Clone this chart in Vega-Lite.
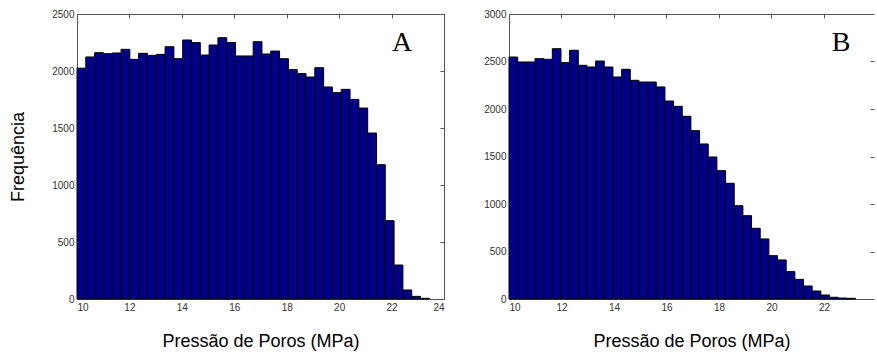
{
  "$schema": "https://vega.github.io/schema/vega-lite/v6.json",
  "padding": {"left": 9, "top": 8, "right": 0, "bottom": 0},
  "background": "white",
  "datasets": {
    "A": [
      {"x0": 10.000, "x1": 10.336, "n": 2025},
      {"x0": 10.336, "x1": 10.672, "n": 2123},
      {"x0": 10.672, "x1": 11.008, "n": 2161},
      {"x0": 11.008, "x1": 11.344, "n": 2152},
      {"x0": 11.344, "x1": 11.680, "n": 2158},
      {"x0": 11.680, "x1": 12.016, "n": 2190},
      {"x0": 12.016, "x1": 12.352, "n": 2102},
      {"x0": 12.352, "x1": 12.688, "n": 2155},
      {"x0": 12.688, "x1": 13.024, "n": 2137},
      {"x0": 13.024, "x1": 13.360, "n": 2146},
      {"x0": 13.360, "x1": 13.696, "n": 2213},
      {"x0": 13.696, "x1": 14.032, "n": 2108},
      {"x0": 14.032, "x1": 14.368, "n": 2272},
      {"x0": 14.368, "x1": 14.704, "n": 2249},
      {"x0": 14.704, "x1": 15.040, "n": 2140},
      {"x0": 15.040, "x1": 15.376, "n": 2228},
      {"x0": 15.376, "x1": 15.712, "n": 2292},
      {"x0": 15.712, "x1": 16.048, "n": 2249},
      {"x0": 16.048, "x1": 16.384, "n": 2132},
      {"x0": 16.384, "x1": 16.720, "n": 2132},
      {"x0": 16.720, "x1": 17.056, "n": 2257},
      {"x0": 17.056, "x1": 17.392, "n": 2149},
      {"x0": 17.392, "x1": 17.728, "n": 2175},
      {"x0": 17.728, "x1": 18.064, "n": 2108},
      {"x0": 18.064, "x1": 18.400, "n": 2012},
      {"x0": 18.400, "x1": 18.736, "n": 1977},
      {"x0": 18.736, "x1": 19.072, "n": 1947},
      {"x0": 19.072, "x1": 19.408, "n": 2029},
      {"x0": 19.408, "x1": 19.744, "n": 1860},
      {"x0": 19.744, "x1": 20.080, "n": 1810},
      {"x0": 20.080, "x1": 20.416, "n": 1839},
      {"x0": 20.416, "x1": 20.752, "n": 1751},
      {"x0": 20.752, "x1": 21.088, "n": 1675},
      {"x0": 21.088, "x1": 21.424, "n": 1456},
      {"x0": 21.424, "x1": 21.760, "n": 1178},
      {"x0": 21.760, "x1": 22.096, "n": 687},
      {"x0": 22.096, "x1": 22.432, "n": 298},
      {"x0": 22.432, "x1": 22.768, "n": 79},
      {"x0": 22.768, "x1": 23.104, "n": 23},
      {"x0": 23.104, "x1": 23.440, "n": 6}
    ],
    "B": [
      {"x0": 10.00, "x1": 10.33, "n": 2547},
      {"x0": 10.33, "x1": 10.66, "n": 2495},
      {"x0": 10.66, "x1": 10.99, "n": 2495},
      {"x0": 10.99, "x1": 11.32, "n": 2530},
      {"x0": 11.32, "x1": 11.65, "n": 2523},
      {"x0": 11.65, "x1": 11.98, "n": 2635},
      {"x0": 11.98, "x1": 12.31, "n": 2488},
      {"x0": 12.31, "x1": 12.64, "n": 2618},
      {"x0": 12.64, "x1": 12.97, "n": 2460},
      {"x0": 12.97, "x1": 13.30, "n": 2442},
      {"x0": 13.30, "x1": 13.63, "n": 2505},
      {"x0": 13.63, "x1": 13.96, "n": 2442},
      {"x0": 13.96, "x1": 14.29, "n": 2337},
      {"x0": 14.29, "x1": 14.62, "n": 2418},
      {"x0": 14.62, "x1": 14.95, "n": 2302},
      {"x0": 14.95, "x1": 15.28, "n": 2284},
      {"x0": 15.28, "x1": 15.61, "n": 2284},
      {"x0": 15.61, "x1": 15.94, "n": 2232},
      {"x0": 15.94, "x1": 16.27, "n": 2084},
      {"x0": 16.27, "x1": 16.60, "n": 2028},
      {"x0": 16.60, "x1": 16.93, "n": 1923},
      {"x0": 16.93, "x1": 17.26, "n": 1772},
      {"x0": 17.26, "x1": 17.59, "n": 1632},
      {"x0": 17.59, "x1": 17.92, "n": 1495},
      {"x0": 17.92, "x1": 18.25, "n": 1351},
      {"x0": 18.25, "x1": 18.58, "n": 1218},
      {"x0": 18.58, "x1": 18.91, "n": 982},
      {"x0": 18.91, "x1": 19.24, "n": 877},
      {"x0": 19.24, "x1": 19.57, "n": 744},
      {"x0": 19.57, "x1": 19.90, "n": 632},
      {"x0": 19.90, "x1": 20.23, "n": 456},
      {"x0": 20.23, "x1": 20.56, "n": 411},
      {"x0": 20.56, "x1": 20.89, "n": 288},
      {"x0": 20.89, "x1": 21.22, "n": 207},
      {"x0": 21.22, "x1": 21.55, "n": 137},
      {"x0": 21.55, "x1": 21.88, "n": 84},
      {"x0": 21.88, "x1": 22.21, "n": 42},
      {"x0": 22.21, "x1": 22.54, "n": 18},
      {"x0": 22.54, "x1": 22.87, "n": 10},
      {"x0": 22.87, "x1": 23.20, "n": 7}
    ],
    "LA": [{"label": "A", "x": 22.4, "y": 2245}],
    "LB": [{"label": "B", "x": 22.65, "y": 2695}]
  },
  "hconcat": [
    {
      "width": 367,
      "height": 285,
      "layer": [
        {
          "data": {"name": "A"},
          "mark": {"type": "bar", "color": "#00008B", "stroke": "#000000", "strokeWidth": 1},
          "encoding": {
            "x": {"field": "x0", "type": "quantitative", "scale": {"domain": [10, 24], "nice": false, "zero": false},
                  "axis": {"orient": "bottom", "values": [10, 12, 14, 16, 18, 20, 22, 24], "title": "Pressão de Poros (MPa)"}},
            "x2": {"field": "x1"},
            "y": {"field": "n", "type": "quantitative", "scale": {"domain": [0, 2500], "nice": false},
                  "axis": {"orient": "left", "values": [0, 500, 1000, 1500, 2000, 2500], "title": "Frequência", "titlePadding": 24}},
            "y2": {"datum": 0}
          }
        },
        {
          "data": {"name": "LA"},
          "mark": {"type": "text", "font": "Liberation Serif", "fontSize": 28, "color": "#000000", "align": "center", "baseline": "middle"},
          "encoding": {
            "x": {"field": "x", "type": "quantitative", "axis": {"orient": "top", "values": [10, 12, 14, 16, 18, 20, 22, 24], "labels": false, "title": null}},
            "y": {"field": "y", "type": "quantitative", "axis": {"orient": "right", "values": [0, 500, 1000, 1500, 2000, 2500], "labels": false, "title": null}},
            "text": {"field": "label"}
          }
        }
      ]
    },
    {
      "width": 365,
      "height": 285,
      "view": {"stroke": null},
      "layer": [
        {
          "data": {"name": "B"},
          "mark": {"type": "bar", "color": "#00008B", "stroke": "#000000", "strokeWidth": 1},
          "encoding": {
            "x": {"field": "x0", "type": "quantitative", "scale": {"domain": [10, 23.905], "nice": false, "zero": false},
                  "axis": {"orient": "bottom", "values": [10, 12, 14, 16, 18, 20, 22], "title": "Pressão de Poros (MPa)"}},
            "x2": {"field": "x1"},
            "y": {"field": "n", "type": "quantitative", "scale": {"domain": [0, 3000], "nice": false},
                  "axis": {"orient": "left", "values": [0, 500, 1000, 1500, 2000, 2500, 3000], "title": null}},
            "y2": {"datum": 0}
          }
        },
        {
          "data": {"name": "LB"},
          "mark": {"type": "text", "font": "Liberation Serif", "fontSize": 28, "color": "#000000", "align": "center", "baseline": "middle"},
          "encoding": {
            "x": {"field": "x", "type": "quantitative", "axis": {"orient": "top", "values": [10, 12, 14, 16, 18, 20, 22], "labels": false, "title": null}},
            "y": {"field": "y", "type": "quantitative", "axis": {"orient": "right", "values": [500, 1000, 1500, 2000, 2500], "labels": false, "title": null, "domain": false}},
            "text": {"field": "label"}
          }
        }
      ]
    }
  ],
  "spacing": 65,
  "bounds": "flush",
  "config": {
    "view": {"stroke": "#555555", "strokeWidth": 1},
    "axis": {
      "grid": false,
      "format": "d",
      "domainColor": "#555555",
      "tickColor": "#555555",
      "tickSize": -4,
      "labelPadding": 7,
      "labelFont": "Liberation Sans",
      "labelFontSize": 10,
      "labelColor": "#333333",
      "titleFont": "Liberation Sans",
      "titleFontSize": 18,
      "titleFontWeight": "normal",
      "titleColor": "#000000"
    },
    "axisX": {"titlePadding": 20}
  }
}
